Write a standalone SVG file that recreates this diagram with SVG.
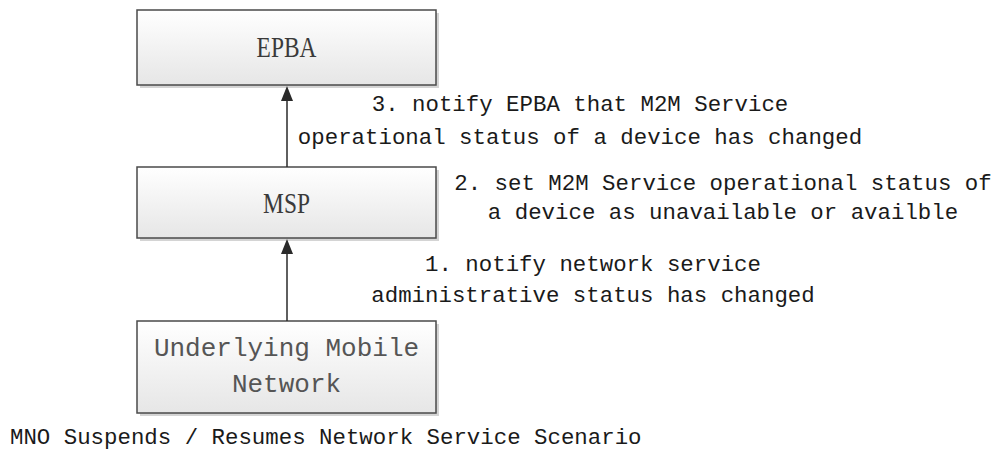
<svg xmlns="http://www.w3.org/2000/svg" width="996" height="454" viewBox="0 0 996 454">
<defs>
<linearGradient id="bg" x1="0" y1="0" x2="0" y2="1">
<stop offset="0" stop-color="#ffffff"/>
<stop offset="1" stop-color="#e6e6e6"/>
</linearGradient>
<marker id="ah" markerWidth="12" markerHeight="14" refX="6" refY="1" orient="auto-start-reverse" markerUnits="userSpaceOnUse" viewBox="0 0 12 14">
</marker>
</defs>
<style>
.shadow{fill:#d4d4d4;}
.box{fill:url(#bg);stroke:#4a4a4a;stroke-width:1.5;}
.bt{font-family:"Liberation Serif",serif;font-size:30px;fill:#3a3a3a;text-anchor:middle;}
.mt{font-family:"Liberation Mono",monospace;font-size:26px;fill:#555;text-anchor:middle;}
.lbl{font-family:"Liberation Mono",monospace;font-size:22.4px;fill:#1a1a1a;text-anchor:middle;}
.cap{font-family:"Liberation Mono",monospace;font-size:22.4px;fill:#1a1a1a;}
.ln{stroke:#2a2a2a;stroke-width:1.5;fill:none;}
.hd{fill:#2a2a2a;}
</style>
<rect width="996" height="454" fill="#ffffff"/>
<g id="epba">
<rect class="shadow" x="140" y="13" width="299" height="75"/>
<rect class="box" x="137" y="10" width="299" height="75"/>
<text class="bt" transform="translate(286.5,57) scale(0.78,1)">EPBA</text>
</g>
<g id="msp">
<rect class="shadow" x="140" y="170" width="299" height="71"/>
<rect class="box" x="137" y="167" width="299" height="71"/>
<text class="bt" transform="translate(286.5,213) scale(0.78,1)">MSP</text>
</g>
<g id="umn">
<rect class="shadow" x="140" y="324" width="299" height="92"/>
<rect class="box" x="137" y="321" width="299" height="92"/>
<text class="mt" x="286.5" y="356">Underlying Mobile</text>
<text class="mt" x="286.5" y="392">Network</text>
</g>
<g id="connectors">
<line class="ln" x1="287" y1="167" x2="287" y2="98"/>
<polygon class="hd" points="287,86 281,101 293,101"/>
<line class="ln" x1="287" y1="321" x2="287" y2="251"/>
<polygon class="hd" points="287,239 281,254 293,254"/>
</g>
<g id="labels">
<text class="lbl" x="580" y="111">3. notify EPBA that M2M Service</text>
<text class="lbl" x="580" y="144">operational status of a device has changed</text>
<text class="lbl" x="723" y="190">2. set M2M Service operational status of</text>
<text class="lbl" x="723" y="219">a device as unavailable or availble</text>
<text class="lbl" x="593" y="271">1. notify network service</text>
<text class="lbl" x="593" y="302">administrative status has changed</text>
<text class="cap" x="10" y="444">MNO Suspends / Resumes Network Service Scenario</text>
</g>
</svg>
